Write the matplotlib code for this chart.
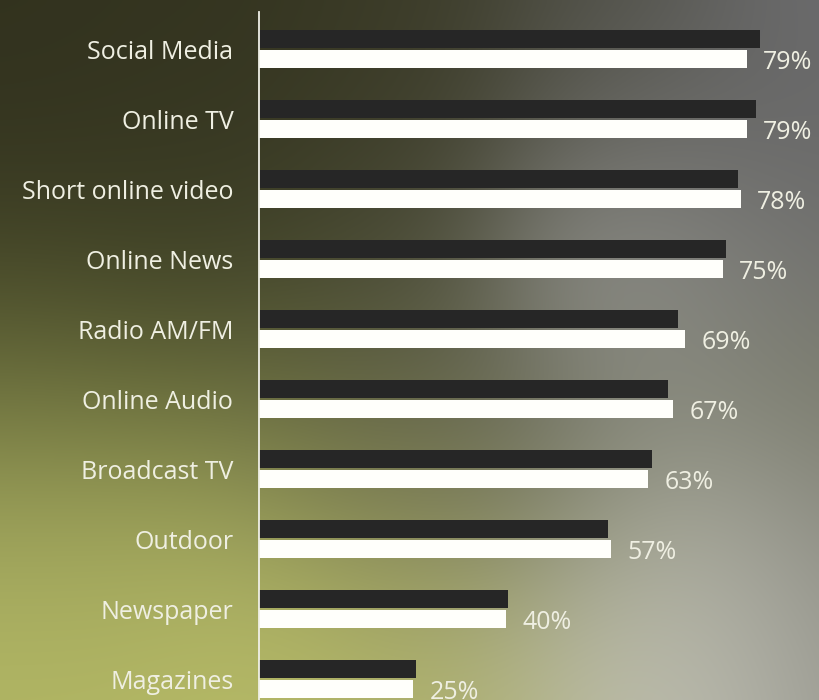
import numpy as np
import matplotlib
matplotlib.use("Agg")
import matplotlib.pyplot as plt

categories = ["Social Media", "Online TV", "Short online video", "Online News",
              "Radio AM/FM", "Online Audio", "Broadcast TV", "Outdoor",
              "Newspaper", "Magazines"]
series_dark = [81.1, 80.4, 77.5, 75.6, 67.8, 66.2, 63.6, 56.5, 40.3, 25.4]
series_white = [79, 79, 78, 75, 69, 67, 63, 57, 40, 25]
value_labels = ["79%", "79%", "78%", "75%", "69%", "67%", "63%", "57%", "40%", "25%"]

W, H, DPI = 820, 700, 100
fig = plt.figure(figsize=(W / DPI, H / DPI), dpi=DPI)

# background: blurred photo-like color field (styling only)
ctrl = [
    (0, 0, (50, 50, 30)), (200, 0, (52, 52, 32)), (420, 0, (58, 58, 38)),
    (600, 0, (80, 80, 72)), (820, 0, (110, 110, 112)),
    (0, 150, (52, 52, 32)), (200, 150, (55, 56, 34)), (420, 120, (60, 60, 40)),
    (600, 120, (95, 95, 90)), (760, 120, (100, 100, 100)), (820, 200, (108, 108, 108)),
    (0, 280, (70, 72, 40)), (200, 280, (62, 64, 38)), (400, 260, (75, 76, 55)),
    (600, 250, (155, 155, 150)), (720, 260, (130, 130, 125)),
    (0, 400, (120, 125, 68)), (200, 400, (115, 120, 65)), (380, 420, (100, 102, 70)),
    (500, 440, (85, 85, 72)), (640, 400, (135, 137, 125)), (800, 400, (120, 122, 105)),
    (0, 540, (165, 170, 95)), (200, 540, (170, 175, 98)), (420, 540, (165, 168, 100)),
    (600, 540, (160, 162, 140)), (720, 560, (188, 188, 178)), (810, 540, (128, 128, 120)),
    (0, 700, (178, 183, 100)), (250, 700, (182, 186, 102)), (460, 700, (175, 178, 110)),
    (620, 680, (190, 190, 170)), (720, 690, (200, 200, 190)), (820, 690, (140, 140, 132)),
]
yy, xx = np.mgrid[0:H:4, 0:W:4]
acc = np.zeros(xx.shape + (3,))
wsum = np.zeros(xx.shape)
sig = 95.0
for cx, cy, col in ctrl:
    w = np.exp(-((xx - cx) ** 2 + (yy - cy) ** 2) / (2 * sig ** 2))
    acc += w[..., None] * np.array(col)
    wsum += w
bg = np.clip(acc / wsum[..., None] / 255.0, 0, 1)
bgax = fig.add_axes([0, 0, 1, 1], zorder=0)
bgax.imshow(bg, extent=[0, W, H, 0], aspect="auto", interpolation="bicubic")
bgax.set_axis_off()

# main axes
left = 259 / W
top_px = 12
ax = fig.add_axes([left, 0, 1 - left, (H - top_px) / H], zorder=1)
ax.patch.set_alpha(0)

pos = np.arange(len(categories))
h = 0.255
off = 0.14
ax.barh(pos - off, series_dark, height=h, color="#262626", zorder=2)
ax.barh(pos + off, series_white, height=h, color="#fffffb", zorder=2)

ax.set_xlim(0, (W - 259) / 6.18)
ax.set_ylim(9.3, -0.53)

txt_col = "#efefe2"
for i, (v, lab) in enumerate(zip(series_white, value_labels)):
    ax.text(v + 2.6, i + off + 0.05, lab, va="center", ha="left",
            fontsize=18, color=txt_col, family="Open Sans")

ax.set_yticks(pos)
ax.set_yticklabels(categories, fontsize=18, color=txt_col, family="Open Sans")
ax.tick_params(axis="y", length=0, pad=18.5)
ax.set_xticks([])
for s in ["top", "right", "bottom"]:
    ax.spines[s].set_visible(False)
ax.spines["left"].set_color("#f0f0e8")
ax.spines["left"].set_linewidth(1.3)

fig.savefig("out.png", dpi=DPI)
